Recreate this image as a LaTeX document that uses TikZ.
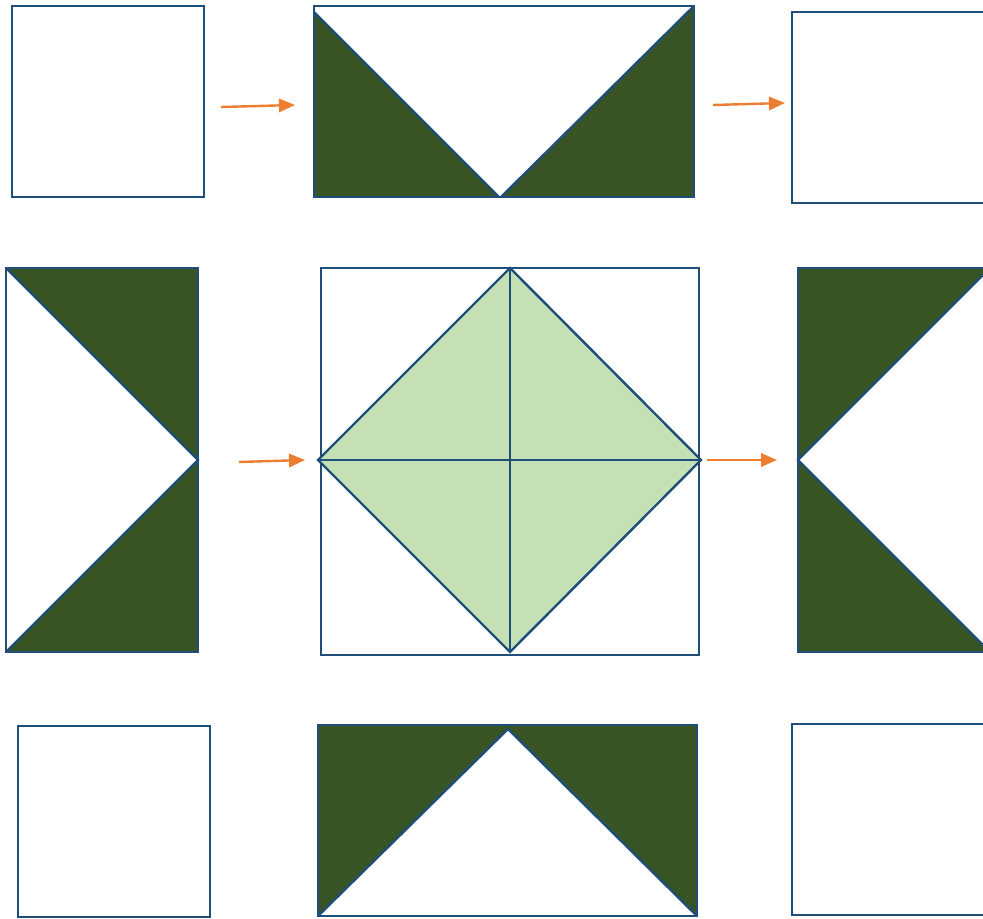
\documentclass[tikz,border=0pt]{standalone}
\usetikzlibrary{arrows.meta}
\definecolor{edgeblue}{RGB}{31,78,121}
\definecolor{darkgreen}{RGB}{56,84,36}
\definecolor{lightgreen}{RGB}{197,224,180}
\definecolor{arrorange}{RGB}{237,125,49}
\tikzset{
  box/.style={draw=edgeblue, line width=1.8pt, line join=miter},
  dark/.style={fill=darkgreen, draw=edgeblue, line width=1.8pt},
  light/.style={fill=lightgreen, draw=edgeblue, line width=1.8pt},
  flow/.style={draw=arrorange, line width=1.8pt, -{Triangle[length=12pt,width=10pt]}}
}
\begin{document}
\begin{tikzpicture}[x=0.75pt,y=-0.75pt]
\useasboundingbox (0,0) rectangle (983,919);
\clip (0,0) rectangle (983,919);
% top row
\draw[box] (12,6) rectangle (204,197);
\fill[darkgreen] (314,12) -- (499,197) -- (314,197) -- cycle;
\fill[darkgreen] (694,6) -- (694,197) -- (501,197) -- cycle;
\draw[box] (314,12) -- (499,197);
\draw[box] (694,6) -- (501,197);
\draw[box] (314,6) rectangle (694,197);
\draw[box] (792,12) rectangle (1000,203);
% middle row
\fill[darkgreen] (6,268) -- (198,268) -- (198,460) -- cycle;
\fill[darkgreen] (198,460) -- (198,652) -- (6,652) -- cycle;
\draw[box] (6,268) -- (198,460) -- (6,652);
\draw[box] (6,268) rectangle (198,652);
\draw[box] (321,268) rectangle (699,655);
\draw[light] (510,268) -- (701,460) -- (510,652) -- (318,460) -- cycle;
\draw[box] (510,268) -- (510,652);
\draw[box] (318,460) -- (701,460);
\fill[darkgreen] (798,268) -- (990,268) -- (798,460) -- cycle;
\fill[darkgreen] (798,460) -- (990,652) -- (798,652) -- cycle;
\draw[box] (990,268) -- (798,460) -- (990,652);
\draw[box] (798,268) rectangle (990,652);
% bottom row
\draw[box] (18,726) rectangle (210,917);
\fill[darkgreen] (318,725) -- (697,725) -- (697,916) -- (508,729) -- (318,916) -- cycle;
\draw[box] (318,916) -- (508,729) -- (697,916);
\draw[box] (318,725) rectangle (697,916);
\draw[box] (792,724) rectangle (1000,915);
% arrows
\coordinate (a1s) at (221,107); \coordinate (a1e) at (295,105);
\coordinate (a2s) at (713,105); \coordinate (a2e) at (785,103);
\coordinate (a3s) at (239,462); \coordinate (a3e) at (305,460);
\coordinate (a4s) at (707,460); \coordinate (a4e) at (777,460);
\draw[flow] (a1s) -- (a1e);
\draw[flow] (a2s) -- (a2e);
\draw[flow] (a3s) -- (a3e);
\draw[flow] (a4s) -- (a4e);
\end{tikzpicture}
\end{document}
